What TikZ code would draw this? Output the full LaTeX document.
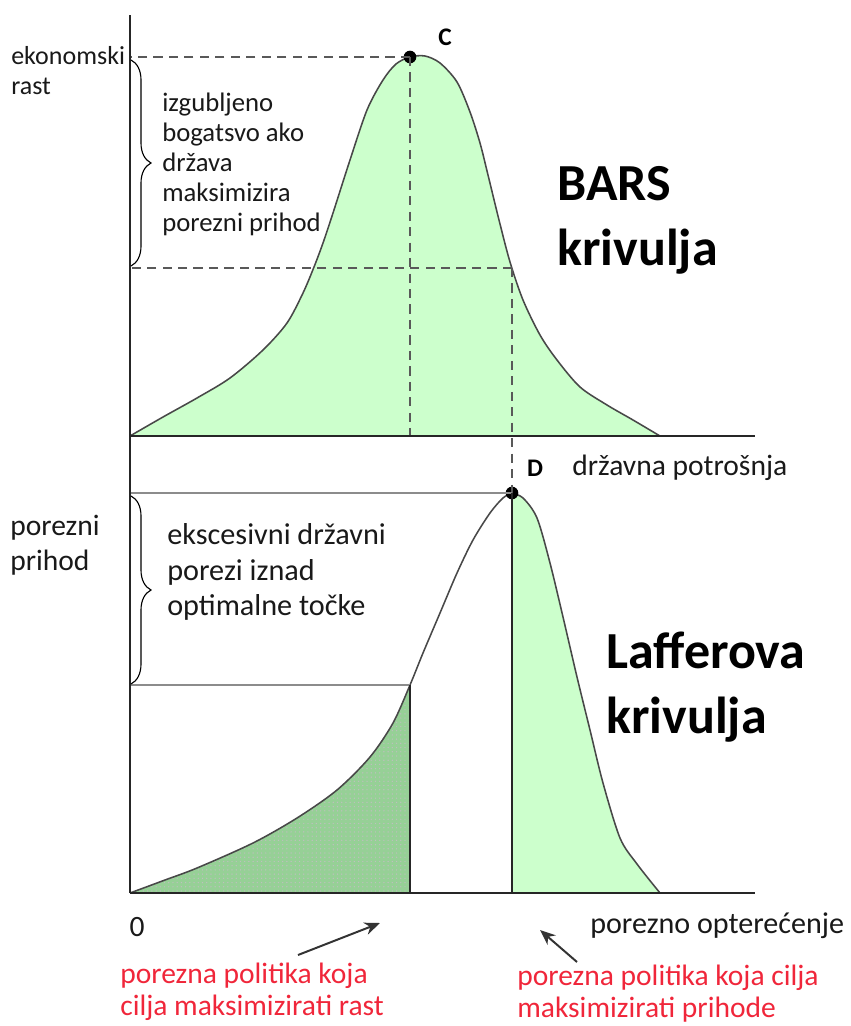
\documentclass[tikz,border=0pt]{standalone}
\usepackage{fontspec}
\setmainfont{Carlito}
\usetikzlibrary{arrows.meta,calc,positioning,patterns,decorations.pathreplacing}

\definecolor{lightgreen}{RGB}{204,255,204}
\definecolor{darkgreen}{RGB}{150,208,150}
\definecolor{policyred}{RGB}{240,38,58}
\definecolor{curvegray}{RGB}{72,72,72}

\newcommand{\barscurve}{plot[smooth, tension=0.5] coordinates {(130,436) (163,417) (197,398) (230,378) (263,350) (287,323) (303,293) (314,267) (323,243) (333,213) (350,160) (367,110) (383,80) (396,64) (410,57) (425,56) (440,63) (457,82) (470,112) (480,143) (488,175) (499,220) (510,262) (523,300) (540,335) (557,360) (580,387) (607,405) (633,420) (660,436)}}
\newcommand{\laffercurve}{plot[smooth, tension=0.5] coordinates {(130,893) (165,880) (197,868) (253,843) (297,818) (337,790) (370,757) (393,723) (410,685) (423,653) (440,613) (457,573) (473,540) (490,513) (503,498) (512,494) (523,498) (537,518) (550,563) (563,617) (577,677) (590,730) (603,783) (620,838) (637,864) (660,893)}}

\tikzset{
  axis/.style={draw=black!85, line width=1pt},
  guide/.style={draw=black!65, line width=0.9pt, dash pattern=on 6.5pt off 4.5pt},
  level/.style={draw=black!45, line width=1.4pt},
  curve/.style={draw=curvegray, line width=1.1pt},
  peak/.style={circle, fill=black, inner sep=0pt, minimum size=9pt},
  lbl/.style={inner sep=0pt, align=left, text=black!90},
  bigtitle/.style={inner sep=0pt, align=left, font=\fontsize{37}{46}\selectfont\bfseries},
  ptlabel/.style={inner sep=0pt, font=\fontsize{18}{20}\selectfont\bfseries},
  policy/.style={inner sep=0pt, align=left, text=policyred, font=\fontsize{21}{22.8}\selectfont},
  pointer/.style={draw=black!80, line width=1.4pt, -{Stealth[length=11pt,width=9pt]}},
  bracket/.style={draw=black, line width=0.8pt, decorate, decoration={brace, amplitude=0.5cm}}
}

\begin{document}
\begin{tikzpicture}[x=0.025cm, y=-0.025cm]
\useasboundingbox (0,0) rectangle (850,1026);

% points on the axes
\coordinate (top) at (130,15);
\coordinate (o1) at (130,436);
\coordinate (x1) at (755,436);
\coordinate (o2) at (130,893);
\coordinate (x2) at (755,893);

% BARS curve
\fill[lightgreen] \barscurve -- cycle;
\draw[curve] \barscurve;

% Laffer curve, two shaded parts
\begin{scope}
  \clip (130,400) rectangle (410,893);
  \fill[darkgreen] \laffercurve -- cycle;
  \fill[pattern=dots, pattern color=black!25] \laffercurve -- cycle;
\end{scope}
\begin{scope}
  \clip (512,400) rectangle (700,893);
  \fill[lightgreen] \laffercurve -- cycle;
\end{scope}
\draw[curve] \laffercurve;

\node[peak] (C) at (410,57) {};
\node[peak] (D) at (512,493) {};
\coordinate (grow) at (410,685);
\coordinate (cut) at (512,268);

% guide lines
\draw[guide] (C.center) -- (C.center -| o1);
\draw[guide] (C.center) -- (C.center |- o1);
\draw[guide] (cut) -- (cut -| o1);
\draw[guide] (cut) -- (D.center);
\draw[level] (D.center) -- (D.center -| o1);
\draw[level] (grow) -- (grow -| o1);
\draw[axis] (grow) -- (grow |- o2);
\draw[axis] (D.center) -- (D.center |- o2);

% axes
\draw[axis] (top) -- (o2);
\draw[axis] (o1) -- (x1);
\draw[axis] (o2) -- (x2);

% braces
\draw[bracket] (131,60) -- (131,266);
\draw[bracket] (131,496) -- (131,684);

% labels
\node[ptlabel] (clbl) at (445,37) {C};
\node[ptlabel] (dlbl) at (535,468) {D};
\node[lbl, anchor=west, font=\fontsize{18.5}{21.3}\selectfont] (growth) at (11,71) {ekonomski\\rast};
\node[lbl, anchor=west, font=\fontsize{19}{21.3}\selectfont] (lost) at (162,164) {izgubljeno\\bogatsvo ako\\država\\maksimizira\\porezni prihod};
\node[bigtitle, anchor=west] (bars) at (557,220) {BARS\\krivulja};
\node[lbl, anchor=base west, font=\fontsize{21}{24}\selectfont] (spend) at (572,475) {državna potrošnja};
\node[lbl, anchor=west, font=\fontsize{21}{24.8}\selectfont] (revenue) at (10,545) {porezni\\prihod};
\node[lbl, anchor=west, font=\fontsize{21.5}{25.5}\selectfont] (excess) at (167,572) {ekscesivni državni\\porezi iznad\\optimalne točke};
\node[bigtitle, anchor=west] (laffer) at (606,687) {Lafferova\\krivulja};
\node[lbl, font=\fontsize{21}{24}\selectfont] (zero) at (137,927) {0};
\node[lbl, anchor=base west, font=\fontsize{21.4}{24}\selectfont] (load) at (590,933) {porezno opterećenje};
\node[policy, anchor=west] (pgrow) at (120,992) {porezna politika koja\\cilja maksimizirati rast};
\node[policy, anchor=west] (prev) at (517,994) {porezna politika koja cilja\\maksimizirati prihode};

% pointers
\coordinate (ptail1) at (298,955);
\coordinate (phead1) at (380,923);
\coordinate (ptail2) at (577,962);
\coordinate (phead2) at (540,930);
\draw[pointer] (ptail1) -- (phead1);
\draw[pointer] (ptail2) -- (phead2);
\end{tikzpicture}
\end{document}
